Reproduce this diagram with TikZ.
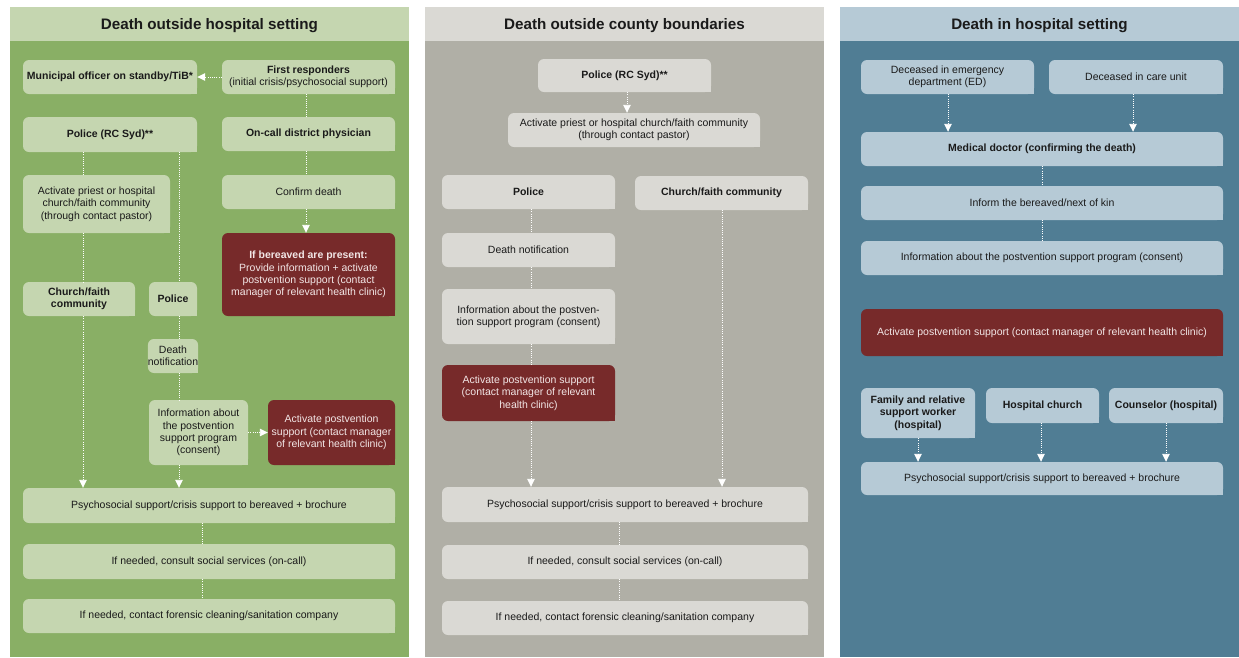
\documentclass[tikz,border=0pt]{standalone}
\usepackage{fontspec}
\setmainfont{Liberation Sans}
\usetikzlibrary{arrows.meta,calc}
\definecolor{gbg}{HTML}{89AF65}
\definecolor{gl}{HTML}{C5D6B0}
\definecolor{gybg}{HTML}{B0AFA6}
\definecolor{gyl}{HTML}{DAD9D4}
\definecolor{blbg}{HTML}{507D94}
\definecolor{bl}{HTML}{B6CAD6}
\definecolor{rd}{HTML}{772A2A}
\definecolor{txt}{HTML}{1A1A1A}
\definecolor{rtxt}{HTML}{F2E6E6}
\newcommand\bx[7]{%
  \pgfmathsetmacro\myBW{#5-#3}\pgfmathsetmacro\myBH{#6-#4}%
  \node[#1,minimum width=\myBW pt,minimum height=\myBH pt] (#2) at ({(#3+#5)/2},{(#4+#6)/2}) {#7};}
\tikzset{
  bx/.style={inner sep=0pt, align=center, font=\fontsize{10.5}{12.4}\selectfont, text=txt,
    rounded corners=6pt, fill=#1,
    append after command={\pgfextra{\fill[#1, sharp corners] (\tikzlastnode.south east) rectangle ([shift={(-6pt,6pt)}]\tikzlastnode.south east);}}},
  rbx/.style={bx=rd, text=rtxt},
  title/.style={font=\fontsize{15.2}{17}\selectfont\bfseries, text=txt, inner sep=0pt},
  conn/.style={white, line width=0.9pt, dash pattern=on 1pt off 1.2pt},
  arr/.style={conn, -{Triangle[width=7.5pt,length=8pt]}}
}
\begin{document}
\begin{tikzpicture}[x=1pt,y=-1pt]
\useasboundingbox (0,0) rectangle (1239,657);
\fill[white] (0,0) rectangle (1239,657);
% panels
\fill[gbg] (10,41) rectangle (409,657);
\fill[gl] (10,7) rectangle (409,41);
\node[title] (t1) at (209.5,25.5) {Death outside hospital setting};
\fill[gybg] (425,41) rectangle (824,657);
\fill[gyl] (425,7) rectangle (824,41);
\node[title] (t2) at (624.5,25.5) {Death outside county boundaries};
\fill[blbg] (840,41) rectangle (1239,657);
\fill[bl] (840,7) rectangle (1239,41);
\node[title] (t3) at (1039.5,25.5) {Death in hospital setting};

% column 1
\bx{bx=gl}{mun}{23}{60}{197}{94}{\bfseries Municipal officer on standby/TiB*}
\bx{bx=gl}{fr}{222}{60}{395}{94}{{\bfseries First responders}\\(initial crisis/psychosocial support)}
\bx{bx=gl}{pol1}{23}{117}{197}{152}{\bfseries Police (RC Syd)**}
\bx{bx=gl}{onc}{222}{117}{395}{151}{\bfseries On-call district physician}
\bx{bx=gl}{pri1}{23}{175}{170}{233}{Activate priest or hospital\\church/faith community\\(through contact pastor)}
\bx{bx=gl}{conf}{222}{175}{395}{209}{Confirm death}
\bx{rbx}{ifb}{222}{233}{395}{316}{{\bfseries If bereaved are present:}\\Provide information + activate\\postvention support (contact\\manager of relevant health clinic)}
\bx{bx=gl}{chu1}{23}{282}{135}{316}{{\bfseries Church/faith}\\{\bfseries community}}
\bx{bx=gl}{pol2}{149}{282}{197}{316}{\bfseries Police}
\bx{bx=gl}{dn1}{149}{339}{197}{373}{Death\\notification}
\bx{bx=gl}{inf1}{149}{400}{248}{465}{Information about\\the postvention\\support program\\(consent)}
\bx{rbx}{act1}{268}{400}{395}{465}{Activate postvention\\support (contact manager\\of relevant health clinic)}
\bx{bx=gl}{psy1}{23}{488}{395}{523}{Psychosocial support/crisis support to bereaved + brochure}
\bx{bx=gl}{con1}{23}{544}{395}{579}{If needed, consult social services (on-call)}
\bx{bx=gl}{for1}{23}{599}{395}{633}{If needed, contact forensic cleaning/sanitation company}

\coordinate (c1a) at (83,0);
\coordinate (c1b) at (179,0);
\coordinate (c1c) at (306,0);
\coordinate (c1d) at (202,0);
\draw[arr] (fr.west) -- (mun.east);
\draw[conn] (fr.south -| c1c) -- (onc.north -| c1c);
\draw[conn] (onc.south -| c1c) -- (conf.north -| c1c);
\draw[arr] (conf.south -| c1c) -- (ifb.north -| c1c);
\draw[conn] (pol1.south -| c1a) -- (pri1.north -| c1a);
\draw[conn] (pri1.south -| c1a) -- (chu1.north -| c1a);
\draw[arr] (chu1.south -| c1a) -- (psy1.north -| c1a);
\draw[conn] (pol1.south -| c1b) -- (pol2.north -| c1b);
\draw[conn] (pol2.south -| c1b) -- (dn1.north -| c1b);
\draw[conn] (dn1.south -| c1b) -- (inf1.north -| c1b);
\draw[arr] (inf1.south -| c1b) -- (psy1.north -| c1b);
\draw[arr] (inf1.east) -- (act1.west);
\draw[conn] (psy1.south -| c1d) -- (con1.north -| c1d);
\draw[conn] (con1.south -| c1d) -- (for1.north -| c1d);

% column 2
\bx{bx=gyl}{pol3}{538}{59}{711}{92}{\bfseries Police (RC Syd)**}
\bx{bx=gyl}{pri2}{508}{113}{760}{147}{Activate priest or hospital church/faith community\\(through contact pastor)}
\bx{bx=gyl}{pol4}{442}{175}{615}{209}{\bfseries Police}
\bx{bx=gyl}{chu2}{635}{176}{808}{210}{\bfseries Church/faith community}
\bx{bx=gyl}{dn2}{442}{233}{615}{267}{Death notification}
\bx{bx=gyl}{inf2}{442}{289}{615}{344}{Information about the postven-\\tion support program (consent)}
\bx{rbx}{act2}{442}{365}{615}{421}{Activate postvention support\\(contact manager of relevant\\health clinic)}
\bx{bx=gyl}{psy2}{442}{487}{808}{522}{Psychosocial support/crisis support to bereaved + brochure}
\bx{bx=gyl}{con2}{442}{545}{808}{579}{If needed, consult social services (on-call)}
\bx{bx=gyl}{for2}{442}{601}{808}{635}{If needed, contact forensic cleaning/sanitation company}

\coordinate (c2a) at (627,0);
\coordinate (c2b) at (531,0);
\coordinate (c2c) at (722,0);
\coordinate (c2d) at (619,0);
\draw[arr] (pol3.south -| c2a) -- (pri2.north -| c2a);
\draw[conn] (pol4.south -| c2b) -- (dn2.north -| c2b);
\draw[conn] (dn2.south -| c2b) -- (inf2.north -| c2b);
\draw[conn] (inf2.south -| c2b) -- (act2.north -| c2b);
\draw[arr] (act2.south -| c2b) -- (psy2.north -| c2b);
\draw[arr] (chu2.south -| c2c) -- (psy2.north -| c2c);
\draw[conn] (psy2.south -| c2d) -- (con2.north -| c2d);
\draw[conn] (con2.south -| c2d) -- (for2.north -| c2d);

% column 3
\bx{bx=bl}{ed}{861}{60}{1034}{94}{Deceased in emergency\\department (ED)}
\bx{bx=bl}{care}{1049}{60}{1223}{94}{Deceased in care unit}
\bx{bx=bl}{md}{861}{132}{1223}{166}{\bfseries Medical doctor (confirming the death)}
\bx{bx=bl}{inform}{861}{186}{1223}{220}{Inform the bereaved/next of kin}
\bx{bx=bl}{inf3}{861}{241}{1223}{275}{Information about the postvention support program (consent)}
\bx{rbx}{act3}{861}{309}{1223}{356}{Activate postvention support (contact manager of relevant health clinic)}
\bx{bx=bl}{fam}{861}{388}{975}{438}{{\bfseries Family and relative}\\{\bfseries support worker}\\{\bfseries (hospital)}}
\bx{bx=bl}{hch}{986}{388}{1099}{423}{\bfseries Hospital church}
\bx{bx=bl}{cou}{1109}{388}{1223}{423}{\bfseries Counselor (hospital)}
\bx{bx=bl}{psy3}{861}{462}{1223}{495}{Psychosocial support/crisis support to bereaved + brochure}

\coordinate (c3a) at (948,0);
\coordinate (c3b) at (1133,0);
\coordinate (c3c) at (1042,0);
\coordinate (c3f) at (918,0);
\coordinate (c3h) at (1041,0);
\coordinate (c3k) at (1166,0);
\draw[arr] (ed.south -| c3a) -- (md.north -| c3a);
\draw[arr] (care.south -| c3b) -- (md.north -| c3b);
\draw[conn] (md.south -| c3c) -- (inform.north -| c3c);
\draw[conn] (inform.south -| c3c) -- (inf3.north -| c3c);
\draw[arr] (fam.south -| c3f) -- (psy3.north -| c3f);
\draw[arr] (hch.south -| c3h) -- (psy3.north -| c3h);
\draw[arr] (cou.south -| c3k) -- (psy3.north -| c3k);
\end{tikzpicture}
\end{document}
